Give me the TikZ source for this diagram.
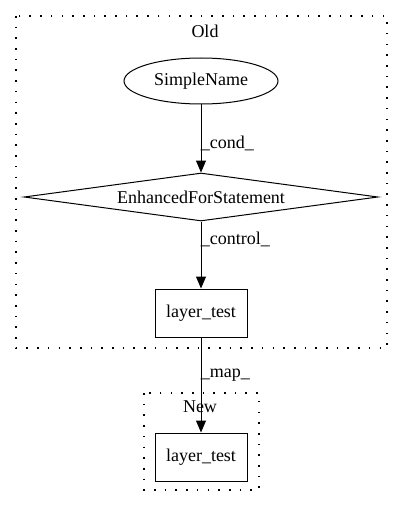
\documentclass[tikz,border=0pt]{standalone}
\usepackage{fontspec}
\setmainfont{Liberation Serif}
\usetikzlibrary{shapes.geometric,arrows.meta}
\tikzset{
  cluster/.style={draw, line width=1.2pt, dash pattern=on 1.6pt off 9.1pt},
  txt/.style={font=\fontsize{18pt}{20pt}\selectfont},
  ell/.style={draw, line width=1pt, ellipse, minimum width=154pt, minimum height=46pt, inner sep=0pt, txt},
  dia/.style={draw, line width=1pt, diamond, aspect=7.4, minimum width=354pt, minimum height=48pt, inner sep=0pt, txt},
  boxn/.style={draw, line width=1pt, rectangle, minimum width=92pt, minimum height=48pt, inner sep=0pt, txt},
  lbl/.style={txt},
  edge/.style={draw, line width=1pt, -{Triangle[length=12pt,width=10pt]}},
}
\begin{document}
\begin{tikzpicture}[x=1pt,y=-1pt]
\useasboundingbox (0,0) rectangle (403,508);
\draw[cluster] (16,16) rectangle (387,348);
\draw[cluster] (144,393) rectangle (259,490);
\node[lbl] (oldl) at (205,31) {Old};
\node[lbl] (newl) at (200,407) {New};
\node[ell] (sn) at (201,81) {SimpleName};
\node[dia] (efs) at (201,197) {EnhancedForStatement};
\node[boxn] (lt1) at (201,313) {layer\_test};
\node[boxn] (lt2) at (201,457) {layer\_test};
\draw[edge] (sn) -- node[lbl, right, xshift=-4pt, pos=0.57] {\_cond\_} (efs.north);
\draw[edge] (efs.south) -- node[lbl, right, xshift=-4pt, pos=0.26] {\_control\_} (lt1);
\draw[edge] (lt1) -- node[lbl, right, xshift=-4pt, pos=0.4] {\_map\_} (lt2);
\end{tikzpicture}
\end{document}
